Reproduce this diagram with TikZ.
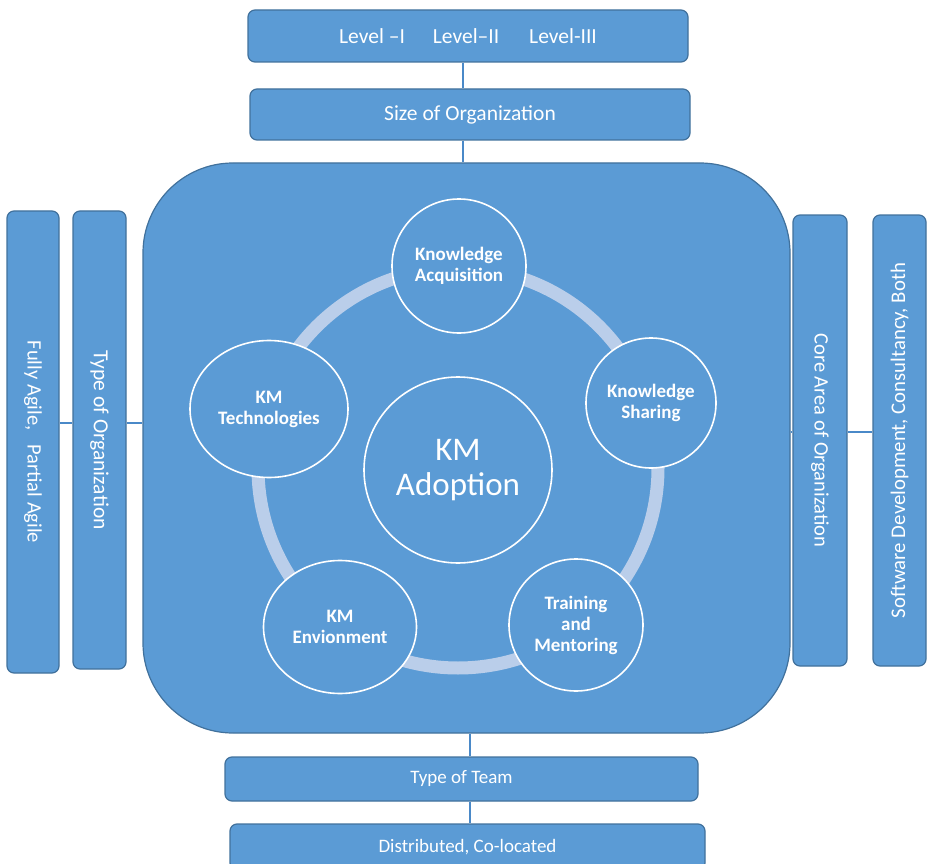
\documentclass[tikz,border=0pt]{standalone}
\usepackage{fontspec}
\setmainfont{Carlito}
\usetikzlibrary{shapes.geometric}

\definecolor{boxblue}{HTML}{5B9BD5}
\definecolor{boxedge}{HTML}{41719C}
\definecolor{ringblue}{HTML}{BACEEA}
\definecolor{linkblue}{HTML}{4A89C8}

\begin{document}
\begin{tikzpicture}[
    x=1pt, y=1pt,
    every node/.style={text=white},
    factor/.style={
      draw=boxedge, line width=1.2pt,
      fill=boxblue,
      rounded corners=7pt, align=center, inner sep=0pt,
      font=\fontsize{21.5}{25}\selectfont
    },
    panel/.style={
      draw=boxedge, line width=1.2pt,
      fill=boxblue,
      rounded corners=90pt, inner sep=0pt
    },
    practice/.style={
      ellipse, draw=white, line width=1.6pt,
      fill=boxblue, align=center, inner sep=0pt,
      font=\fontsize{19}{21}\selectfont\bfseries
    },
    link/.style={draw=linkblue, line width=1.8pt},
    ring/.style={draw=ringblue, line width=13pt}
  ]

    \clip (0,0) rectangle (927,-864);
    \useasboundingbox (0,0) rectangle (927,-864);

    % top column
    \node[factor, minimum width=440, minimum height=52] (levels) at (468,-36)
      {Level --I\hspace{28pt}Level--II\hspace{30pt}Level-III};
    \node[factor, minimum width=440, minimum height=51] (size) at (470,-114.5)
      {Size of Organization};

    % central frame
    \node[panel, minimum width=647, minimum height=570] (adopt) at (466.5,-448) {};

    % left side
    \node[factor, minimum width=52, minimum height=462,
          font=\fontsize{20.5}{24}\selectfont] (agile) at (33,-442)
      {\rotatebox{-90}{Fully Agile,\ \ \ Partial Agile}};
    \node[factor, minimum width=53, minimum height=458] (orgtype) at (99.5,-440)
      {\rotatebox{-90}{Type of Organization}};

    % right side
    \node[factor, minimum width=54, minimum height=451,
          font=\fontsize{20.5}{24}\selectfont] (area) at (820,-440.5)
      {\rotatebox{-90}{Core Area of Organization}};
    \node[factor, minimum width=53, minimum height=451,
          font=\fontsize{20.8}{24}\selectfont] (business) at (899.5,-440.5)
      {\rotatebox{90}{Software Development, Consultancy, Both}};

    % bottom column
    \node[factor, minimum width=473, minimum height=44,
          font=\fontsize{19}{22}\selectfont] (team) at (461.5,-779) {Type of Team};
    \node[factor, minimum width=475, minimum height=46,
          font=\fontsize{19}{22}\selectfont] (teamkind) at (467.5,-847)
      {Distributed, Co-located};

    % connectors
    \coordinate (tcol) at (463,0);
    \coordinate (bcol) at (470,0);
    \coordinate (lrow) at (0,-423);
    \coordinate (rrow) at (0,-432);
    \draw[link] (levels.south -| tcol) -- (size.north -| tcol);
    \draw[link] (size.south -| tcol) -- (adopt.north -| tcol);
    \draw[link] (adopt.south -| bcol) -- (team.north -| bcol);
    \draw[link] (team.south -| bcol) -- (teamkind.north -| bcol);
    \draw[link] (agile.east |- lrow) -- (orgtype.west |- lrow);
    \draw[link] (orgtype.east |- lrow) -- (adopt.west |- lrow);
    \draw[link] (adopt.east |- rrow) -- (area.west |- rrow);
    \draw[link] (area.east |- rrow) -- (business.west |- rrow);

    % cycle of practices
    \coordinate (centre) at (458,-468);
    \draw[ring] (centre) circle[radius=200];

    \node[practice, minimum width=134, minimum height=134] (acquire) at (459,-266)
      {Knowledge\\Acquisition};
    \node[practice, minimum width=130, minimum height=130] (share) at (651,-403)
      {Knowledge\\Sharing};
    \node[practice, minimum width=134, minimum height=132] (mentor) at (576,-625)
      {Training\\and\\Mentoring};
    \node[practice, minimum width=153, minimum height=133] (environ) at (340,-627)
      {KM\\Envionment};
    \node[practice, minimum width=158, minimum height=137] (tech) at (269,-409)
      {KM\\Technologies};
    \node[practice, minimum width=188, minimum height=186,
          font=\fontsize{33}{35}\selectfont] (adoption) at (458,-470) {KM\\Adoption};

  \end{tikzpicture}
\end{document}
